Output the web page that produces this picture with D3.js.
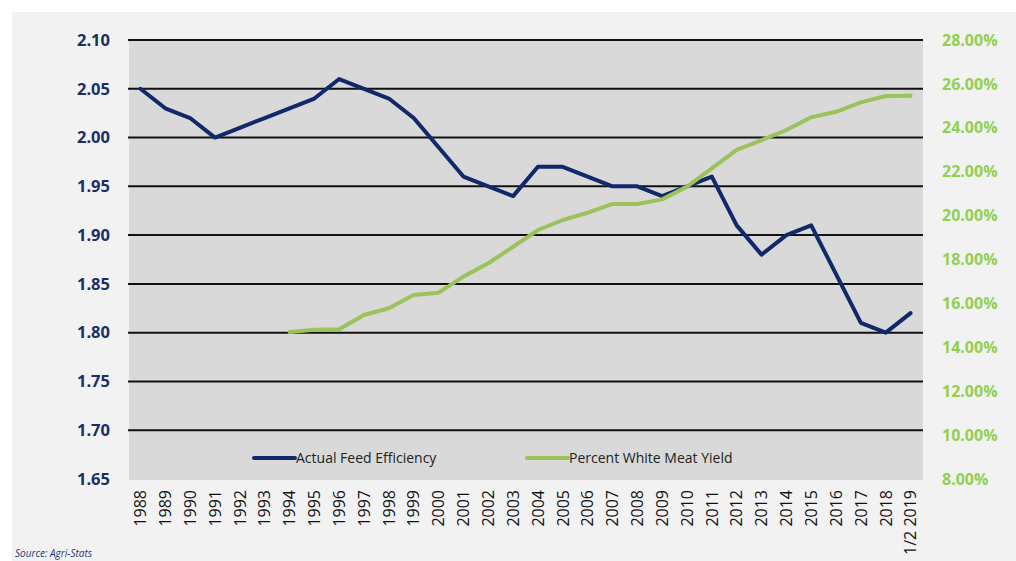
<!DOCTYPE html>
<html><head><meta charset="utf-8">
<script src="https://cdn.jsdelivr.net/npm/d3@7"></script>
<style>body{margin:0;background:#fff}svg{display:block}</style>
</head><body>
<svg id="c" width="1016" height="561"></svg>
<script>
const categories = ["1988","1989","1990","1991","1992","1993","1994","1995","1996","1997","1998","1999","2000","2001","2002","2003","2004","2005","2006","2007","2008","2009","2010","2011","2012","2013","2014","2015","2016","2017","2018","1/2 2019"];
const feedEfficiency = [2.05,2.03,2.02,2.00,2.01,2.02,2.03,2.04,2.06,2.05,2.04,2.02,1.99,1.96,1.95,1.94,1.97,1.97,1.96,1.95,1.95,1.94,1.95,1.96,1.91,1.88,1.90,1.91,1.86,1.81,1.80,1.82];
const whiteMeatYield = [null,null,null,null,null,null,14.70,14.80,14.82,15.47,15.78,16.38,16.49,17.22,17.83,18.58,19.34,19.80,20.13,20.53,20.53,20.74,21.32,22.15,22.99,23.44,23.90,24.48,24.73,25.16,25.45,25.46];
const leftTicks = [1.65,1.70,1.75,1.80,1.85,1.90,1.95,2.00,2.05,2.10];
const rightTicks = [8,10,12,14,16,18,20,22,24,26,28];
const seriesNames = ["Actual Feed Efficiency","Percent White Meat Yield"];
const sourceText = "Source: Agri-Stats";

const svg = d3.select("#c");
const W = 1016, H = 561;
const m = {left:128, right:923, top:40, bottom:479};
const navy = "#10296a", green = "#9bc25b", rightLabel = "#92d050", leftLabel = "#1b2f66";

svg.append("rect").attr("x",12).attr("y",12).attr("width",W-12).attr("height",H-12).attr("fill","#f2f2f2");
svg.append("rect").attr("x",m.left+1).attr("y",m.top).attr("width",m.right-m.left-1).attr("height",m.bottom-m.top+1).attr("fill","#d9d9d9");

const x = d3.scaleBand().domain(categories).range([m.left,m.right]).padding(0);
const xc = d => x(d) + x.bandwidth()/2;
const yL = d3.scaleLinear().domain([1.65,2.10]).range([m.bottom,m.top]);
const yR = d3.scaleLinear().domain([8,28]).range([m.bottom,m.top]);

// gridlines
svg.append("g").selectAll("line").data(leftTicks.filter(t=>t>1.66)).join("line")
  .attr("x1",m.left).attr("x2",m.right).attr("y1",d=>yL(d)).attr("y2",d=>yL(d))
  .attr("stroke","#111").attr("stroke-width",2);

// left axis
const gl = svg.append("g").attr("transform",`translate(110,0)`)
  .call(d3.axisLeft(yL).tickValues(leftTicks).tickFormat(d3.format(".2f")).tickSize(0).tickPadding(0));
gl.select(".domain").remove();
gl.selectAll("text").attr("fill",leftLabel).attr("font-family","'Open Sans'").attr("font-weight","bold").attr("font-size","16.5px");

// right axis
const gr = svg.append("g").attr("transform",`translate(942,0)`)
  .call(d3.axisRight(yR).tickValues(rightTicks).tickFormat(d=>d.toFixed(2)+"%").tickSize(0).tickPadding(0));
gr.select(".domain").remove();
gr.selectAll("text").attr("fill",rightLabel).attr("font-family","'Open Sans'").attr("font-weight","bold").attr("font-size","16px");

// x axis
const gx = svg.append("g").attr("transform",`translate(0,490)`)
  .call(d3.axisBottom(x).tickSize(0).tickPadding(0));
gx.select(".domain").remove();
gx.selectAll("text").attr("fill","#111").attr("font-family","'Open Sans'").attr("font-size","16px")
  .attr("transform","rotate(-90)").attr("text-anchor","end").attr("x",0).attr("y",0).attr("dy","0.36em");

// lines
const lineL = d3.line().x((d,i)=>xc(categories[i])).y(d=>yL(d));
svg.append("path").attr("d",lineL(feedEfficiency)).attr("fill","none").attr("stroke",navy).attr("stroke-width",4).attr("stroke-linejoin","round").attr("stroke-linecap","round");
const lineR = d3.line().defined(d=>d!=null).x((d,i)=>xc(categories[i])).y(d=>yR(d));
svg.append("path").attr("d",lineR(whiteMeatYield)).attr("fill","none").attr("stroke",green).attr("stroke-width",4).attr("stroke-linejoin","round").attr("stroke-linecap","round");

// legend
const leg = [{n:seriesNames[0],c:navy,x:254},{n:seriesNames[1],c:green,x:527}];
const lg = svg.append("g");
leg.forEach(l=>{
  lg.append("line").attr("x1",l.x).attr("x2",l.x+41).attr("y1",458).attr("y2",458).attr("stroke",l.c).attr("stroke-width",4).attr("stroke-linecap","round");
  lg.append("text").attr("x",l.x+42).attr("y",458).attr("dy","0.35em").attr("fill","#222")
    .attr("font-family","'Open Sans'").attr("font-size","14px").text(l.n);
});

svg.append("text").attr("x",15).attr("y",557).attr("fill","#1f3a7a").attr("font-family","'Open Sans'")
  .attr("font-style","italic").attr("font-size","10px").text(sourceText);
</script>
</body></html>
